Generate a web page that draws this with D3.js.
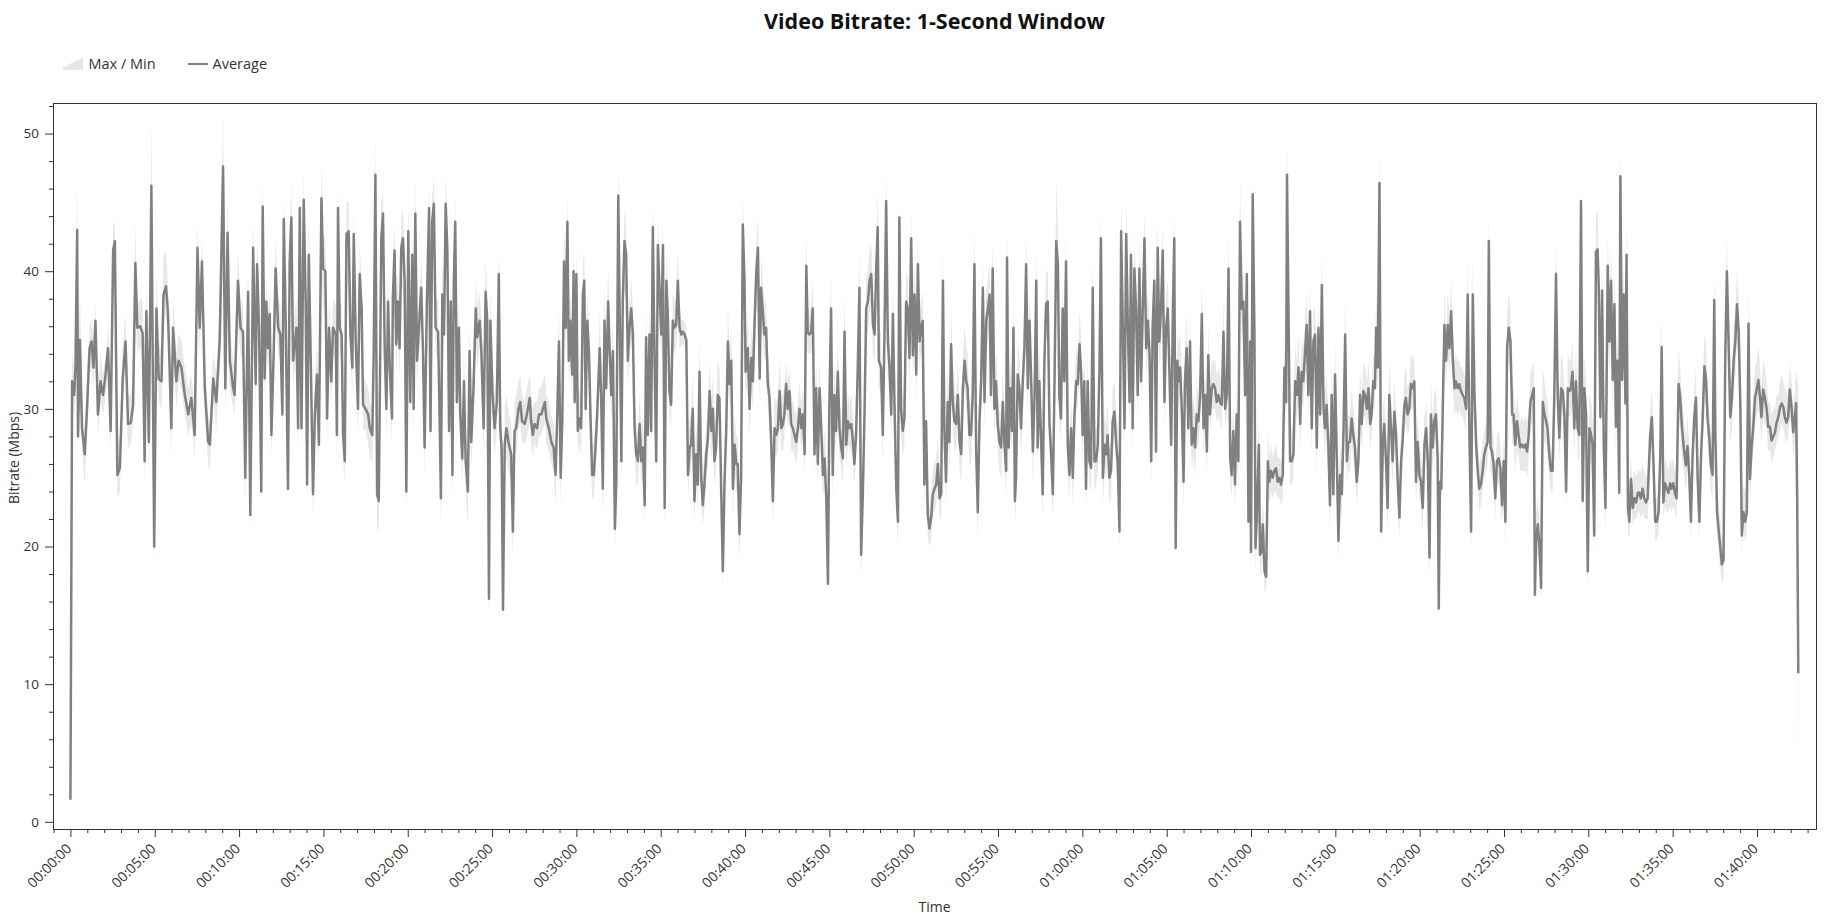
<!DOCTYPE html>
<html><head><meta charset="utf-8">
<script src="https://cdn.jsdelivr.net/npm/d3@7"></script>
<style>
body{margin:0;background:#fff;}
svg{display:block;font-family:"Open Sans","Noto Sans",sans-serif;}
</style></head><body>
<svg id="chart" width="1842" height="922"></svg>
<script>
// ---- data (seconds from start, Mbps) ----
const timeSec = [
0,6,13,18,24,27,34,41,51,59,68,75,82,89,98,107,116,125,134,143,152,158,167,176,186,196,205,215,223,231,238,248,257,264,270,279,288,298,306,314,324,331,340,347,359,365,377,385,395,407,419,430,442,452,460,468,478,490,496,508,519,531,543,551,559,567,579,
584,596,605,614,622,632,640,650,659,664,671,679,684,691,697,703,709,715,723,730,739,747,754,759,766,774,780,786,792,804,810,816,822,830,837,842,848,855,863,870,877,884,893,899,907,913,920,928,934,944,948,952,958,965,970,976,982,990,996,1003,1008,1015,1023,1029,1036,1041,1050,1059,1065,1074,1079,1085,1091,1097,1106,1112,1118,1124,1130,1136,1144,1147,1153,1159,1165,1171,1177,1183,
1189,1195,1202,1209,1216,1221,1227,1233,1240,1248,1254,1260,1268,1276,1281,1287,1293,1299,1308,1313,1318,1323,1329,1335,1341,1347,1353,1359,1364,1369,1375,1382,1387,1394,1400,1406,1414,1420,1426,1434,1442,1447,1456,1462,1470,1477,1483,1489,1494,1501,1509,1517,1524,1529,1534,1539,1545,1551,1560,1568,1574,1580,1586,1594,1600,1607,1616,1624,1634,1639,1645,1651,1660,1667,1675,1681,1688,1693,1702,1711,1719,1726,1732,1738,1744,1750,1756,1762,1768,1773,1778,1785,1790,
1794,1800,1805,1811,1817,1823,1828,1833,1839,1845,1850,1856,1862,1868,1874,1883,1888,1894,1900,1906,1913,1918,1924,1930,1937,1942,1949,1954,1960,1965,1971,1977,1983,1989,1995,2001,2007,2013,2019,2025,2031,2037,2043,2048,2054,2060,2066,2072,2078,2084,2090,2096,2102,2108,2114,2120,2125,2131,2137,2143,2149,2155,2161,2167,2173,2179,2185,2191,2197,2203,2208,2214,2220,2226,2232,2238,2244,2250,2256,2262,2268,2274,2280,2286,2291,2297,2303,2309,2315,2321,2327,2333,2339,2345,2351,2357,2363,2369,2374,2380,2386,2392,2398,
2402,2410,2416,2422,2428,2434,2440,2446,2452,2457,2463,2469,2475,2481,2487,2493,2499,2505,2511,2517,2523,2529,2535,2540,2546,2552,2558,2564,2570,2576,2582,2588,2594,2600,2606,2612,2618,2623,2629,2635,2641,2647,2653,2659,2665,2671,2677,2683,2689,2695,2700,2706,2712,2718,2724,2730,2736,2742,2748,2754,2760,2766,2772,2778,2784,2789,2795,2801,2807,2813,2819,2825,2831,2837,2843,2849,2855,2861,2866,2872,2876,2884,2890,2896,2902,2908,2914,2920,2926,2932,2938,2944,2949,2955,2961,2967,2973,2979,2985,2991,2997,
3003,3009,3015,3021,3026,3032,3038,3044,3050,3056,3062,3068,3074,3080,3086,3092,3098,3104,3109,3115,3121,3127,3133,3139,3145,3151,3157,3163,3169,3175,3181,3187,3192,3198,3204,3210,3216,3222,3228,3234,3240,3246,3252,3258,3264,3270,3275,3281,3287,3293,3299,3305,3311,3317,3323,3329,3332,3338,3344,3350,3355,3360,3364,3370,3376,3382,3388,3394,3400,3406,3412,3418,3424,3430,3436,3441,3447,3453,3459,3465,3471,3477,3483,3489,3495,3501,3507,3513,3518,3524,3530,3536,3542,3548,3554,3560,3566,3572,3578,3584,3590,3596,3601,
3607,3613,3619,3625,3631,3637,3643,3649,3655,3661,3666,3673,3679,3685,3690,3696,3702,3708,3714,3720,3726,3732,3738,3744,3750,3756,3762,3768,3773,3779,3785,3791,3797,3803,3809,3815,3821,3827,3833,3839,3845,3850,3856,3862,3868,3874,3880,3886,3892,3898,3904,3910,3916,3922,3927,3932,3938,3942,3948,3954,3960,3965,3971,3977,3983,3989,3995,4001,4007,4013,4019,4025,4031,4037,4043,4048,4054,4060,4066,4072,4078,4084,4090,4096,4102,4108,4114,4120,4126,4131,4137,4143,4149,4155,4161,4167,4173,4179,4185,4191,4197,4200,4206,
4212,4216,4220,4228,4232,4237,4242,4248,4254,4260,4265,4271,4277,4283,4289,4295,4301,4307,4313,4319,4325,4328,4334,4339,4345,4351,4357,4363,4369,4375,4380,4386,4392,4398,4404,4410,4416,4422,4428,4434,4440,4446,4452,4458,4463,4469,4475,4481,4487,4493,4499,4505,4511,4517,4523,4529,4535,4541,4546,4552,4558,4564,4570,4576,4582,4588,4594,4600,4606,4612,4618,4624,4629,4635,4641,4645,4651,4657,4663,4669,4674,4680,4686,4692,4698,4704,4710,4716,4722,4728,4734,4740,4746,4751,4757,4763,4769,4775,4781,4787,4793,4799,4805,4811,
4817,4823,4829,4835,4840,4846,4852,4858,4864,4868,4872,4877,4882,4888,4894,4900,4906,4912,4918,4924,4929,4935,4941,4947,4953,4959,4965,4971,4977,4983,4989,4995,5001,5006,5012,5018,5024,5030,5036,5042,5046,5052,5057,5063,5069,5075,5081,5087,5093,5099,5105,5111,5117,5123,5129,5134,5140,5146,5152,5158,5164,5170,5176,5182,5188,5194,5200,5206,5210,5214,5220,5226,5232,5238,5244,5250,5255,5261,5267,5273,5279,5285,5291,5297,5303,5309,5315,5321,5327,5334,5338,5344,5350,5356,5362,5368,5374,5380,5386,5392,5398,5404,5410,5415,
5421,5427,5433,5437,5443,5449,5455,5461,5469,5475,5481,5487,5493,5498,5504,5510,5514,5520,5526,5532,5536,5541,5546,5552,5558,5564,5570,5576,5581,5587,5593,5599,5605,5611,5620,5626,5632,5638,5644,5650,5656,5661,5667,5673,5679,5685,5691,5696,5702,5708,5714,5721,5727,5733,5739,5747,5753,5759,5765,5771,5777,5783,5789,5795,5801,5807,5813,5819,5824,5830,5836,5842,5848,5852,5858,5864,5869,5875,5881,5887,5893,5899,5905,5911,5917,5923,5929,5935,5941,5946,5952,5958,5964,5970,5975,5981,5987,5993,5999,6005,6011,6016,6022,6028,6034,6040,6046,6052,6058,6064,6070,6076,6082,6088,6094,6099,6105,6111,6117,6123,6129,6135,6139,6143,6147
];
const avgMbps = [
1.6,32,31,33,43,28,35,28.6,26.7,30,34.4,34.9,33,36.4,29.6,32,31,32.5,34.4,28.4,41.5,42.2,25.2,25.7,32.2,34.9,28.9,29,30.3,40.6,35.9,36,35.5,26.2,37.1,27.6,46.2,20,37.3,32.2,32,38.3,38.9,37,28.6,35.9,32,33.5,33,31,29.6,30.8,28.1,41.7,35.9,40.7,31.5,27.6,27.4,32.2,30.5,34.9,47.6,31.5,42.8,33.5,31.5,
31,39.3,35.9,35.6,25,38.5,22.3,41.7,31.8,40.5,35.9,24,44.7,32.2,37.8,34.4,36.9,28.1,34,40.2,35.9,35.4,29.6,43.8,36.1,24.2,40.7,43.9,33.5,35.9,28.6,44.6,28.6,45.2,37.8,24.5,41.2,33.5,23.8,29.8,32.5,27.4,45.3,40.2,40,29.3,35.9,32,35.9,35.4,28.1,44.6,35.9,35.4,28.1,26.2,42.7,42.9,35.4,33,42.7,34.9,30,39.8,37.3,30.3,30,29.6,28.6,28.1,34.2,47,23.8,23.3,42.4,44.2,34.4,30,37.8,33,29.3,38,41.5,34.7,37.8,34.4,41.7,42.4,
39.3,24,42.9,30.5,41.2,30,44.2,33.5,35.9,38.8,34.4,27.2,37.6,44.6,28.4,43.6,44.9,35.9,35.6,29.8,23.5,38.3,35.4,44.9,41.5,28.4,37.8,25.2,39.3,43.6,30.5,35.9,29.6,26.4,32,26.2,24,34.2,27.6,31.5,37.3,35.2,36.4,34.2,28.6,38.5,36.4,16.2,36.4,31.3,28.6,30.5,39.8,28.6,27.2,15.4,27.4,28.6,27.4,26.7,21.1,28.4,28.6,30,30.5,29.1,28.9,29.6,30.8,29.1,28.1,28.9,28.6,29.6,29.6,30,30.5,29.3,28.6,27.6,27.2,25.2,29.6,34.9,25,29.3,40.7,35.9,43.6,33.5,36.4,32.5,40,
30.5,39.8,28.4,29.3,28.6,38.3,39.3,30,36.4,34,29.6,25.2,25.2,27.2,29.6,34.4,31,24.2,36.4,31.5,37.8,34.4,31,34.2,21.3,24.7,45.5,36.9,26.2,37.8,42.2,41.2,33.5,35.9,37.3,35.4,28.6,26.7,26.2,28.9,26.2,27.2,23,35.2,28.1,35.4,28.4,43.2,33.5,26.2,41.9,38.5,35.4,41.9,22.8,39.3,36.9,31.3,30.3,36.4,35.9,36.1,39.3,35.9,35.4,35.6,35.4,35,25.2,27.2,27.4,30,23.3,26.7,24.5,32.7,25,23,24.7,26.7,27.9,31.3,28.4,30,26.2,27.2,31,30.8,24.2,18.2,24.7,28.4,34.9,31.8,33.5,24.2,27.4,26,26,20.9,25,43.4,39.3,
32.7,34.4,30,33.7,32,36.4,40,41.7,32.2,38.8,37.1,35.4,35.9,31.8,30.8,27.6,23.3,28.6,28.1,28.6,31.3,28.6,28.9,29.6,31.8,30,31.3,28.9,28.6,28.1,27.6,28.6,30,28.6,29.6,26.7,40.4,35.6,35.4,35.6,37.3,26.7,31.5,26,31.5,28.6,25.2,26.4,23.5,17.3,30.3,37.3,25.2,31,28.4,32.7,28.6,27.2,26.4,35.6,27.4,29.1,28.6,28.9,27.6,26,28.1,33,38.8,19.4,23.8,29.6,37.3,37.8,39.3,39.8,36.1,35.4,39.8,43.2,33.5,33,28.1,35.4,45.1,34.9,33,29.6,36.9,30,24.2,21.8,43.9,30,28.4,29.3,37.8,37.3,33.7,42.4,33.9,
38.3,32.5,40.5,34.9,35.9,36.4,24.5,29.1,22.3,21.3,22.1,23.8,24.2,24.5,26,23.5,23.8,39.3,28.6,24.7,30.5,27.6,34.7,30.5,29.1,28.9,31,27.6,26.7,31.5,33.5,32,31.5,28.1,28.1,31,40.5,27.2,22.5,29.1,32,38.8,30.5,36.4,37.3,38.3,31,40.2,30,32,28.9,27.6,27.2,30.5,27.4,25.5,41,27.2,31.5,28.4,35.9,23.3,25,32.5,31.5,28.6,32,34.4,40.5,31.5,36.4,32,26.9,31,39.3,27.2,32,27.9,23.8,33.5,37.6,37.8,28.9,26.7,23.8,32,42.2,40.5,31,29.3,37.3,32,40.7,27.4,25.2,28.6,25,29.6,32,31.8,34.7,32.5,28.1,
32,24.2,32,26.2,25.7,38.8,26.2,26.2,27.4,33,42.4,25,27.4,26.7,28.1,25,25.5,29.1,29.8,27.6,26,21.1,42.9,35.9,28.6,42.7,35.9,30.5,41.2,28.6,40.2,37.3,31,40.2,32,37.3,42.4,34.4,36.4,34,26.2,35.9,39.3,26.9,41.7,34.9,37.3,41.5,30.5,35.9,37.3,32.5,27.4,37.1,42.4,19.9,33.5,32,33,29.8,24.7,32,34.4,28.6,34.9,27.4,28.6,27.2,29.6,29.1,31,36.9,28.6,31,26.9,33.9,29.6,31.5,31.8,31.5,30.5,31,30.5,30.3,35.6,30,31,40.2,26.4,25.2,28.4,24.5,29.6,26.2,43.6,37.3,37.8,31,39.8,21.8,34.9,19.6,45.6,
35.9,19.9,21.8,27.4,19.4,19.6,21.6,18.2,17.8,26.2,24.7,25.5,25,25.5,25.7,24.7,25,24.5,25.2,33,30.5,47,35.9,26.2,26.2,26.7,32,31,33,28.9,32.7,32,34,36.1,31,37.1,28.6,34.9,35.4,27.2,35.9,29.6,39,30,28.6,30.3,27.4,23,31,23.8,32.5,26.7,20.4,25.2,23.8,28.4,35.4,26.2,27.6,27.6,29.3,28.1,27.2,24.7,26.2,31,28.9,31.3,31,30,31.5,28.9,29.6,32,31.5,35.9,33,46.4,21.1,27.6,28.9,26.4,22.8,31,28.6,26.2,29.8,28.1,24.7,22.1,26.2,27.9,30.3,30.8,29.6,30,31.8,31.5,32,24.7,27.6,25.2,24.7,22.8,
27.4,28.6,26.2,19.2,29.6,27.2,29.1,29.6,26.4,15.5,24.7,24.2,29.8,36.1,33.5,36.1,34.4,37.1,33.5,31.5,32,31.5,31.8,31.3,31,30.8,30,38.3,28.1,21.1,38.3,31,27.4,25.7,24.2,24.5,25.5,26.7,27.2,27.6,42.2,27.2,26.9,26,23.5,26.2,26.4,25.7,23,26.2,21.8,34.4,35.9,34.9,29.6,29.6,27.4,29.1,28.1,27.2,27.4,27.2,27.4,26.9,28.1,30.5,31,31.5,16.5,20.4,21.6,20.1,17,30.5,29.6,29.1,28.6,26.7,25.5,25.5,31,39.8,31,27.9,31.5,31.3,29.6,24,31.5,31.3,31.5,32.7,28.6,32,28.6,28.1,45.1,23.3,31.5,29.6,18.2,28.6,28.1,27.4,
20.8,41.4,41.6,39,29.4,38.6,27.3,22.8,40.4,34.9,39.3,32.1,37.6,28.7,33.5,23.9,46.9,32.1,38.3,30.4,41.2,22.8,21.8,24.9,22.8,23.5,23.2,23.9,23.9,23.5,24.2,23.5,23.2,23.5,28,29.4,25.9,21.8,21.8,22.5,26.6,34.5,23.2,24.6,24.2,23.9,24.6,24.2,24.6,23.9,23.5,31.8,30.8,28.7,27.3,25.9,27.3,25.2,21.8,26.6,29.4,30.8,24.9,21.8,26.6,29.4,33.1,32.1,29.4,28,25.9,25.2,37.9,28,22.5,21.1,20.1,18.7,19,33.5,40,34.9,29.4,30.8,33.5,34.9,37.6,35.6,30.1,20.8,22.5,21.8,22.5,36.2,24.9,27.3,28.7,30.8,31.4,32.1,30.8,29.4,31.4,30.8,30.1,28.7,28.7,27.7,28,28.3,29,29.4,30.1,30.4,30.1,29.4,29,29.4,31.4,30.1,28.3,29.4,30.4,23.5,10.8
];
const maxMbps = [
3.5,34,33,38,47,32,38.5,31,28.5,32,36,36.5,35,37.5,31.5,34,32.5,34,36,30.5,43.5,43.5,27.5,28,34.5,37,31,31,33,43.5,37.5,38,38,28.5,39.5,29.5,51.6,24,40,35,34,41,41.5,39,30.5,38,34,35.5,35,33,31.5,32.5,30,43.5,38,42.5,33.5,29.5,29,34,32.5,37,51.7,35,45.5,36,33.5,
33,41.5,38,37.5,27,41,24.5,44,34.5,42.5,38,26.5,47.4,35,39.5,36.5,39,30.5,36.5,42.5,38,37.5,32,45.5,38.5,26.5,43,46.5,36,38,31,46.5,31,47.5,40,27,44.5,36,26,32,35,29.5,48,42.5,42.5,31.5,38,34.5,38,37.5,30.5,46.5,38,37.5,30.5,28.5,45,45,37.5,35.5,44.5,37,32,42,39.5,32.5,32,31.5,30.5,30,36.5,50.1,26,25.5,45,46,37,32.5,40,35.5,31.5,40,43.5,37,40,36.5,44,44.5,
41.5,26.5,45.5,33,44,32.5,47,36,38,41,36.5,29.5,40,46.5,31,45.5,47,38,38,32,26,41,37.5,47,43.5,31,40,27.5,41.5,45.5,33,38,32,28.5,34.5,28.5,26.5,36.5,30,34,39.5,37.5,38.5,36.5,31,41,38.5,20,39,33.5,31,32.5,42,31,29.5,19,30,31,29.5,29,24,30.5,31,32,32.5,31,30.5,31.5,32.5,31,30,30.5,30.5,31.5,31.5,32,32.5,31,30.5,29.5,29,27.5,32,37.5,27.5,31.5,43.5,38.5,45.5,36,38.5,35,42.5,
33,42,31,31.5,31,40.5,41.5,32.5,38.5,36,32,27.5,27.5,29.5,32,37,33.5,26.5,39,34,40.5,36.5,33.5,36.5,24,27,47.9,39,28.5,40,44.5,43,36,38,39.5,37.5,31,29,28.5,31,28.5,29.5,25.5,37.5,30.5,37.5,31,45.5,36,28.5,44,41,37.5,44,25,41.5,39,33.5,32.5,38.5,38,38,41.5,37.5,36.5,36.5,36.3,36,27.5,29.5,29.5,32.5,25.5,29,27,35,27.5,25.5,27,29,30,33.5,30.5,32.5,28.5,29.5,33.5,33,26.5,21.5,27,30.5,37.5,34,36,26.5,29.5,28,28,23,27.5,45.5,41.5,
35,36.5,32.5,36,34.5,38.5,42.5,44,34.5,41,39.5,37.5,38,34,33,30,25.5,31,30.5,31,33.5,31,31,31.5,33.5,32,33,31,30.5,30,29.5,30.5,32,30.5,31.5,28.5,43,37.5,37,37.5,39.5,29,33.5,28,33.5,30.5,27.5,28.5,25.5,20.5,32.5,40,27.5,33.5,30.5,35,30.5,29.5,28.5,38.5,29.5,31,30.5,31,29.5,28,30,35.5,41.5,21.5,26,32,39.5,40,41.5,42,38.5,37.5,42,46,36,35.5,30.5,37.5,47.5,37,35.5,32,39,32.5,26.5,24,46,32.5,30.5,31.5,40,39.5,36,44.5,36,
40.5,35,42.5,37,38,38.5,27,31.5,24.5,23,24,25.5,26,26.5,28,25.5,26,42,31,27,33,30,37.5,33,31.5,31,33.5,30,29,34,36,34.5,34,30.5,30.5,33.5,43.5,29.5,24.5,31.5,34.5,41,33,38.5,39.5,40.5,33.5,42.5,32.5,34.5,31,30,29.5,33,29.5,27.5,44,29.5,34,31,38.5,25.5,27,35,34,31,34.5,37,43,34,38.5,34.5,29,33.5,42,29.5,34.5,30,26,36,40,40,31,29,26,34.5,46.8,43,33.5,31.5,39.5,34.5,43,29.5,27.5,31,27.5,32,34.5,34,37,35,30.5,
34.5,26.5,34.5,28.5,28,41.5,28.5,28.5,29.5,35.5,45,27.5,29.5,29,30.5,27,27.5,31.5,32,30,28.5,23.5,45.5,38,31,45,38,33,43.5,31,42.5,39.5,33.5,42.5,34.5,39.5,44.5,36.5,38.5,36.5,28.5,38,41.5,29,44,37,39.5,43.5,33,38,39.5,35,29.5,39.5,44.5,22.5,36,34.5,35.5,32,27,34.5,37,31,37,29.5,31,29.5,32,31,33,39.5,31,33,29,36,31.5,33.5,33.5,33.5,32.5,33,32.5,32,38,32,33,43,28.5,27.5,30.5,26.5,31.5,28.5,47.3,39.5,40,33.5,42,24,37,22,47.3,
38,22,24,29.5,21.5,21.5,23.5,21,20.5,28.5,26.5,27.5,26.5,27,27.5,26.5,26.5,26,27,35.5,33,49.8,38.5,28.5,28.5,29,34.5,33.5,35.5,31,35,34.5,36.5,38.5,33.5,39.5,31,37,37.5,29.5,38,32,41.5,32.5,31,32.5,29.5,25.5,33.5,26,35,29,22.5,27.5,26,30.5,38.5,28.5,29.5,29.5,31.5,30,29,26.5,28,33,31,33.5,33,32,33.5,31,31.5,34,33.5,38.5,35.5,49.1,23.5,30,31,28.5,25,33.5,31,28.5,32,30,27,24,28.5,30,32.5,33,31.5,32,34,33.5,34,27,29.5,27.5,26.5,24.5,
29.5,30.5,28.5,21.5,32,29.5,31,31.5,28.5,19,27,26.5,32,38.5,35.5,38.5,36.5,39.5,35.5,33.5,34,33.5,33.5,33,33,32.5,32,41,30.5,23.5,41,33.5,29.5,27.5,26,26.5,27.5,28.5,29,29.5,44.4,29.5,29,28,25.5,28,28.5,27.5,25,28,24,37,38.5,37,32,31.5,29.5,31,30,29,29.5,29,29.5,29,30,32.5,33,33.5,20,22.5,23.5,22,20.5,33,32,31,30.5,28.5,27,27,33.5,42.5,33.5,30,34,33.5,31.5,26,34,33.5,33.5,35,31,34.5,31,30.5,46.3,25.5,34,32,20,31,30.5,29.5,
23,44,44.5,41.5,32,41,30,25,43,37.5,42,35,40.5,31,36,26,49.3,35,41,33,44.5,25,24,26.5,24.5,25.5,25,25.5,25.5,25.5,26,25.5,25,25.5,30,31.5,28,23.5,23.5,24,28.5,37,25,26.5,26,25.5,26.5,26,26.5,25.5,25.5,34.5,33,31,29.5,28,29.5,27.5,24,29,31.5,33,27,24,29,31.5,35.5,34.5,31.5,30,28,27.5,40.5,30.5,24.5,23,22,20.5,21,36,42.5,37.5,32,33,36,37,40,38,32.5,23,24.5,24,24.5,39,27,29.5,31,33,33.5,34.5,33,31.5,33.5,33,32,30.5,30.5,29.5,30,30,31,31,32,32.5,32,31.5,31,31.5,33.5,32,30,31.5,33,32,32.5
];
const minMbps = [
0,30.5,29.5,31,36,26.5,33,27,24.5,28.5,32.5,33,31.5,34.5,28,30.5,29.5,31,32.5,27,38,39,23.5,24,30.5,33,27,27.5,29,37,34,34.5,33.5,24.5,35,25.5,40,17.9,35,30.5,30,36,37,35,26.5,34,30,32,31.5,29.5,28,29,26.5,38,34,38,29.5,26,25.5,30.5,28.5,33,40,29.5,39,31.5,30,
29.5,36,34,33.5,23,35,20.7,37,30,37,33.5,22.5,40,30.5,35.5,32.5,35,26.5,32,37,34,33.5,28,39,34,22.5,37,40,31.5,34,26.5,40,26.5,41,35.5,22.5,37,31.5,22,28,30.5,25.5,40,37.5,37,27.5,34,30,34,33.5,26.5,40,34,33.5,26.5,24.5,39,39,33.5,31,39,33,28,36,35,28.5,28.5,27.5,26.5,26,32,40,21.5,21,38,40,32.5,28,35.5,31,27.5,35.5,38,32.5,35.5,32.5,38,39,
36,22,39,28.5,38,28,40,31.5,34,36,32.5,25,35,40,26.5,39,41,34,33.5,28,21.5,35,33.5,40,38,26.5,35.5,23,36,39,28.5,34,27.5,24.5,30,24,21.5,32,25.5,29.5,35,33,34.5,32,26.5,35.5,34,14,34,29.5,26.5,28.5,36,26.5,25,13.8,25.5,26.5,25.5,24.5,19,26.5,27,28.5,29,27.5,27.5,28,29,27.5,26.5,27.5,27,28,28,28.5,29,27.5,27,26,25.5,23,27.5,32.5,23,27.5,37,34,39,31.5,34,30.5,37,
28.5,36,26.5,27.5,26.5,35.5,36,28,34,32,27.5,23.5,23.5,25.5,27.5,32.5,29,22,34,29.5,35.5,32.5,29,32,19.5,22.5,40,34.5,24.5,35.5,38.5,38,31.5,34,35,33.5,26.5,24.5,24.5,27,24.5,25,21.5,33,26,33.5,26.5,39,31.5,24,38,36,33.5,38.5,21,36,34.5,29.5,28.5,34.5,34,34.5,36.5,34.5,34.5,34.8,34.6,34,23.5,25.5,25.5,28,21.5,25,22.5,30.5,23,21.5,23,25,26,29.5,26.5,28,24.5,25.5,29,29,22,17,23,26.5,32.5,30,31.5,22,25.5,24,24,19,23,39,36,
30.5,32.5,28,31.5,30,34,37,38,30.5,36,35,33.5,34,30,29,25.5,21.5,26.5,26.5,27,29.5,27,27,28,30,28.5,29.5,27,27,26.5,26,27,28.5,27,28,25,37,34,34,34,35,25,29.5,24,29.5,26.5,23.5,24.5,21.5,16.3,28.5,35,23.5,29,26.5,30.5,26.5,25.5,24.5,33,25.5,27.5,27,27,26,24.5,26.5,31,36,17.5,22,27.5,35,35.5,37,37.5,34,33.5,37,39.5,31.5,31,26,33,40,32.5,31,27.5,34.5,28,22.5,20,39.5,28,26.5,27.5,35.5,35,31.5,38.5,32,
36,30.5,37,33,34,34,22.5,27,20.5,20,20.5,22,22.5,23,24.5,22,22,36,26.5,23,28.5,25.5,32.5,28.5,27,27,29,25.5,24.5,29.5,31.5,30,29.5,26,26,29,37,25,20.5,27,30,36,28.5,34,35,36,29,37,28,30,27,25.5,25,28.5,25.5,23.5,37,25,29.5,26.5,33.5,21.5,23,30.5,29.5,26.5,30,32.5,37,29.5,34,30,24.5,29,36,25,30,25.5,22,31.5,35,35.5,27,24.5,22,30,38.5,37.5,29,27.5,35,30,37,25.5,23.5,26.5,23,27.5,30,30,32.5,30.5,26,
30,22.5,30,24.5,24,36,24,24.5,25.5,31,38.5,23,25.5,25,26.5,23,23.5,27,28,25.5,24,19.9,39,34,26.5,39,34,28.5,38,26.5,37,35,29,37,30,35,38.5,32.5,34,32,24,34,36.5,25,38,33,35,38,28.5,34,35,30.5,25.5,35,38.5,18.5,31.5,30,31,27.5,22.5,30,32.5,26.5,33,25.5,26.5,25,27.5,27,29,34.5,26.5,29,25,32,28,30,30,30,29,29.5,29,28.5,33.5,28.5,29.5,37,24.5,23.5,26.5,22.5,27.5,24,39.5,35,35.5,29,36.5,20,32.5,18,40,
33.5,18,20,25.5,17.8,18,20,16.8,16.8,24.5,23,24,23.5,24,24,23.5,23.5,23,23.5,31,28.5,40,33.5,24.5,24.5,25,30,29,31,27,30.5,30,32,34,29,35,26.5,33,33.5,25,34,27.5,36.5,28,26.5,28.5,25.5,21,29,22,30.5,24.5,19,23,22,26.5,33,24.5,25.5,25.5,27.5,26.5,25.5,23,24.5,29,27,29.5,29.5,28.5,30,27,28,30,30,33.5,31,40,19.5,25.5,27,24.5,21,29,26.5,24.5,28,26.5,23,20.5,24.5,26,28.5,29,28,28.5,30,30,30,23,25.5,23.5,23,21,
25.5,26.5,24.5,17.5,27.5,25.5,27,28,24.5,14.5,23,22.5,27.5,34,31.5,34,32.5,35,31.5,29.5,30,29.5,30,29.5,29.5,29,28.5,36,26,19.5,36,29,25.5,24,22.5,23,24,25,25.5,26,38.5,25.5,25,24.5,22,24.5,24.5,24,21.5,24.5,20,32,33.5,32.5,27.5,27.5,25.5,27,26.5,25.5,25.5,25.5,25.5,25,26.5,28.5,29,29.5,15.3,18.5,19.5,18.5,15.8,28.5,27.5,27.5,27,25,24,24,29,36.5,29,26,29.5,29.5,27.5,22.5,29.5,29.5,29.5,30.5,26.5,30,26.5,26,40,21.5,29.5,27.5,16.5,26.5,26,25.5,
19,38,38.5,36,27.5,36,25.5,21,37,32.5,36.5,30,35,26.5,31.5,22,40,30,36,28.5,37.5,21,20.5,23.5,21.5,22,22,22.5,22.5,22,22.5,22,22,22,26,27.5,24,20.5,20.5,21,25,32.5,22,23,22.5,22.5,23,22.5,23,22.5,22,29.5,28.5,26.5,25.5,24,25.5,23.5,20.5,24.5,27.5,28.5,23,20.5,24.5,27.5,31,30,27.5,26,24,23.5,35,26,21,19.5,18.5,17.3,17.5,31.5,37,32.5,27.5,28.5,31.5,32.5,35,33.5,28,19.5,21,20.5,21,33.5,23,25.5,27,29,29.5,30,29,27.5,29.5,29,28.5,27,27,26,26.5,27,27.5,28,28.5,29,28.5,28,27.5,28,29.5,28.5,26.5,27.5,28.5,21,1.2
];
const yMajorTicks = [0, 10, 20, 30, 40, 50];
const yMinorTicks = d3.range(0, 53, 2);
const xMinorTicks = d3.range(-60, 6181, 60);      // every minute
const xMajorTicks = d3.range(0, 6001, 300);       // every 5 minutes
const chartTitle = "Video Bitrate: 1-Second Window";
const legendLabels = ["Max / Min", "Average"];
const xTitle = "Time";
const yTitle = "Bitrate (Mbps)";

// ---- layout ----
const svg = d3.select("#chart");
const L = 53, R = 1816, T = 103, B = 829;
const x = d3.scaleLinear().domain([-62, 6210]).range([L, R]);
const y = d3.scaleLinear().domain([-0.52, 52.22]).range([B, T]);
const textCol = "#333";
const bandCol = "#e8e8e8";
const lineCol = "#808080";

const n = Math.min(timeSec.length, avgMbps.length, maxMbps.length, minMbps.length);
const data = d3.range(n).map(i => ({t: timeSec[i], a: avgMbps[i], hi: maxMbps[i], lo: minMbps[i]}));

const plot = svg.append("g");
plot.append("path").datum(data)
  .attr("d", d3.area().x(d => x(d.t)).y0(d => y(d.lo)).y1(d => y(d.hi)))
  .attr("fill", bandCol);
plot.append("path").datum(data)
  .attr("d", d3.line().x(d => x(d.t)).y(d => y(d.a)))
  .attr("fill", "none").attr("stroke", lineCol).attr("stroke-width", 2.5)
  .attr("stroke-linejoin", "round");

// frame
svg.append("rect").attr("x", L + 0.5).attr("y", T + 0.5).attr("width", R - L).attr("height", B - T)
  .attr("fill", "none").attr("stroke", "#333").attr("stroke-width", 1);

function fmtTime(s) {
  const h = Math.floor(s / 3600), m = Math.floor((s % 3600) / 60), sec = s % 60;
  const p = v => String(v).padStart(2, "0");
  return p(h) + ":" + p(m) + ":" + p(sec);
}

// x axis
const gxMinor = svg.append("g").attr("transform", `translate(0,${B})`)
  .call(d3.axisBottom(x).tickValues(xMinorTicks.filter(v => v % 300 !== 0)).tickSize(4).tickFormat(""));
const gxMajor = svg.append("g").attr("transform", `translate(0,${B})`)
  .call(d3.axisBottom(x).tickValues(xMajorTicks).tickSize(8).tickFormat(fmtTime));
[gxMinor, gxMajor].forEach(g => { g.select(".domain").remove(); g.selectAll("line").attr("stroke", "#333"); });
gxMajor.selectAll("text")
  .attr("x", 0).attr("y", 0).attr("dy", "0.35em")
  .attr("transform", "translate(-2,17) rotate(-45)")
  .attr("text-anchor", "end")
  .attr("fill", textCol).style("font-size", "14px").style("font-family", "'Open Sans', sans-serif");

// y axis
const gyMinor = svg.append("g").attr("transform", `translate(${L},0)`)
  .call(d3.axisLeft(y).tickValues(yMinorTicks.filter(v => v % 10 !== 0)).tickSize(4).tickFormat(""));
const gyMajor = svg.append("g").attr("transform", `translate(${L},0)`)
  .call(d3.axisLeft(y).tickValues(yMajorTicks).tickSize(8).tickPadding(6).tickFormat(d3.format("d")));
[gyMinor, gyMajor].forEach(g => { g.select(".domain").remove(); g.selectAll("line").attr("stroke", "#333"); });
gyMajor.selectAll("text").attr("fill", textCol).style("font-size", "13.5px").style("font-family", "'Open Sans', sans-serif");

// titles
svg.append("text").attr("x", (L + R) / 2).attr("y", 29).attr("text-anchor", "middle")
  .style("font-size", "21.5px").style("font-weight", "bold").attr("fill", "#111").text(chartTitle);
svg.append("text").attr("x", (L + R) / 2).attr("y", 912).attr("text-anchor", "middle")
  .style("font-size", "14px").attr("fill", textCol).text(xTitle);
svg.append("text").attr("transform", "translate(19,458) rotate(-90)").attr("text-anchor", "middle")
  .style("font-size", "14px").attr("fill", textCol).text(yTitle);

// legend
const lg = svg.append("g");
lg.append("path").attr("d", "M63,70 L63,67.5 L83,57 L83,70 Z").attr("fill", "#e6e6e6");
lg.append("text").attr("x", 88.5).attr("y", 64).attr("dy", "0.35em").style("font-size", "14.5px").attr("fill", textCol).text(legendLabels[0]);
lg.append("line").attr("x1", 188).attr("x2", 208).attr("y1", 64).attr("y2", 64).attr("stroke", lineCol).attr("stroke-width", 2);
lg.append("text").attr("x", 212.5).attr("y", 64).attr("dy", "0.35em").style("font-size", "14.5px").attr("fill", textCol).text(legendLabels[1]);
</script>
</body></html>
